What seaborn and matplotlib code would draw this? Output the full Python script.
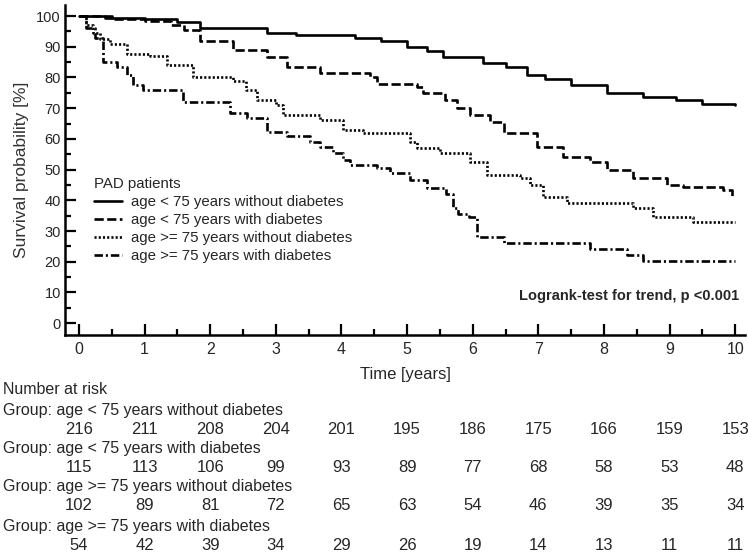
import pandas as pd
import matplotlib.pyplot as plt
import matplotlib.transforms as mtransforms
from matplotlib.ticker import MultipleLocator
import seaborn as sns

# Kaplan-Meier steps (time in years, survival in %)
g1_t = [0, 0.4, 1.0, 1.5, 1.85, 2.86, 3.3, 4.2, 4.6, 5.0, 5.3, 5.55, 6.15, 6.5, 6.83, 7.1, 7.5, 8.05, 8.6, 9.1, 9.5, 10.0]
g1_s = [100, 99.5, 99, 98, 96, 94.5, 93.8, 92.7, 91.8, 90, 88.5, 86.7, 84.6, 83.5, 80.8, 79.5, 77.5, 74.8, 73.5, 72.5, 71.2, 71]

g2_t = [0, 0.5, 1.0, 1.4, 1.6, 1.85, 2.35, 2.86, 3.17, 3.67, 4.44, 4.54, 5.15, 5.24, 5.58, 5.76, 5.96, 6.27,
        6.47, 6.98, 7.38, 7.79, 8.05, 8.44, 8.96, 9.2, 9.82, 9.95]
g2_s = [100, 99, 98.5, 97, 95.5, 92, 89, 86.7, 83.4, 81.5, 80.2, 78, 77, 75.1, 72.5, 70, 67.8, 65.6,
        61.8, 57.4, 54.2, 52.5, 49.8, 47.1, 45.1, 44.4, 43.3, 41]

g3_t = [0, 0.1, 0.22, 0.32, 0.47, 0.73, 1.08, 1.34, 1.74, 2.35, 2.55, 2.71, 3.0, 3.11, 3.67, 4.02, 4.33, 5.05,
        5.15, 5.5, 5.96, 6.22, 6.72, 6.87, 7.07, 7.44, 8.44, 8.75, 9.36, 10.0]
g3_s = [100, 97, 94.5, 92.5, 91, 87.6, 87, 84, 80, 79, 76, 72.6, 71, 67.8, 66.1, 62.9, 61.8, 59,
        56.9, 55.3, 52.5, 48.2, 47.2, 45, 41.1, 39, 37.4, 34.6, 33, 33]

g4_t = [0, 0.1, 0.25, 0.37, 0.58, 0.73, 0.82, 0.98, 1.59, 2.3, 2.56, 2.86, 3.17, 3.52, 3.67, 3.87, 4.02, 4.13,
        4.54, 4.74, 5.05, 5.3, 5.6, 5.7, 5.78, 5.95, 6.07, 6.47, 7.79, 8.35, 8.6, 10.0]
g4_s = [100, 96, 93, 85, 83.4, 80.8, 77.5, 75.9, 72, 68.4, 66.7, 62.2, 60.8, 59, 57.4, 55.3, 53, 51.5,
        50.4, 48.8, 46.5, 43.9, 42.2, 37.4, 35.7, 34.6, 28.1, 26, 24.3, 22.1, 20.2, 20.2]

groups = ["age < 75 years without diabetes", "age < 75 years with diabetes",
          "age >= 75 years without diabetes", "age >= 75 years with diabetes"]

risk_times = [0, 1, 2, 3, 4, 5, 6, 7, 8, 9, 10]
risk_g1 = [216, 211, 208, 204, 201, 195, 186, 175, 166, 159, 153]
risk_g2 = [115, 113, 106, 99, 93, 89, 77, 68, 58, 53, 48]
risk_g3 = [102, 89, 81, 72, 65, 63, 54, 46, 39, 35, 34]
risk_g4 = [54, 42, 39, 34, 29, 26, 19, 14, 13, 11, 11]

frames = []
for name, t, s in zip(groups, [g1_t, g2_t, g3_t, g4_t], [g1_s, g2_s, g3_s, g4_s]):
    frames.append(pd.DataFrame({"time": t, "surv": s, "group": name}))
df = pd.concat(frames, ignore_index=True)

sns.set_style("ticks")
plt.rcParams["font.family"] = ["Liberation Sans", "DejaVu Sans"]
narrow = ["Liberation Sans Narrow", "Liberation Sans", "DejaVu Sans"]

fig = plt.figure(figsize=(7.48, 5.53), dpi=100)
ax = fig.add_axes([0.087, 0.394, 0.909, 0.597])

dash_map = {groups[0]: "", groups[1]: (3.5, 1.3), groups[2]: (0.8, 0.8), groups[3]: (3.2, 1.1, 0.8, 1.1)}
sns.lineplot(data=df, x="time", y="surv", style="group", style_order=groups, dashes=dash_map,
             color="black", lw=1.9, drawstyle="steps-post", estimator=None, sort=False,
             legend=False, ax=ax)

ax.set_xlim(-0.213, 10.15)
ax.set_ylim(-3.9, 103.6)
ax.xaxis.set_major_locator(MultipleLocator(1))
ax.xaxis.set_minor_locator(MultipleLocator(0.5))
ax.yaxis.set_major_locator(MultipleLocator(10))
ax.yaxis.set_minor_locator(MultipleLocator(5))
ax.tick_params(axis="both", which="major", direction="in", length=8, width=1.6, color="black")
ax.tick_params(axis="both", which="minor", direction="in", length=4, width=1.6, color="black")
ax.tick_params(axis="y", labelsize=10.5, pad=3)
ax.tick_params(axis="x", labelsize=11.5, pad=5)
for lab in ax.get_xticklabels():
    lab.set_family(narrow)
sns.despine(ax=ax)
for sp in ["left", "bottom"]:
    ax.spines[sp].set_linewidth(1.8)
    ax.spines[sp].set_color("black")

ax.set_ylabel("Survival probability [%]", fontsize=12.5, color="#333333", labelpad=5)
ax.set_xlabel("Time [years]", fontsize=12, family=narrow, labelpad=7)

handles = ax.get_lines()[:4]
leg = ax.legend(handles, groups, title="PAD patients", loc="upper left", bbox_to_anchor=(0.027, 0.512),
                frameon=False, fontsize=10.8, title_fontsize=10.8, handlelength=1.9,
                handletextpad=0.6, labelspacing=0.28, alignment="left", borderaxespad=0.3)

ax.text(0.992, 0.12, "Logrank-test for trend, p <0.001", transform=ax.transAxes, ha="right",
        va="center", fontsize=10.5, fontweight="bold")

# number-at-risk table below the axes
trans = mtransforms.blended_transform_factory(ax.transData, fig.transFigure)
fig.text(0.004, 1 - 390 / 553, "Number at risk", fontsize=11.5, family=narrow, va="center")
rows_y = [(410, 429), (448, 467), (487, 506), (526, 545)]
for name, counts, (gy, ny) in zip(groups, [risk_g1, risk_g2, risk_g3, risk_g4], rows_y):
    fig.text(0.004, 1 - gy / 553, "Group: " + name, fontsize=11.5, family=narrow, va="center")
    for t, n in zip(risk_times, counts):
        ax.text(t, 1 - ny / 553, str(n), transform=trans, ha="center", va="center",
                fontsize=12, family=narrow, clip_on=False)

fig.savefig("out.png", dpi=100)
